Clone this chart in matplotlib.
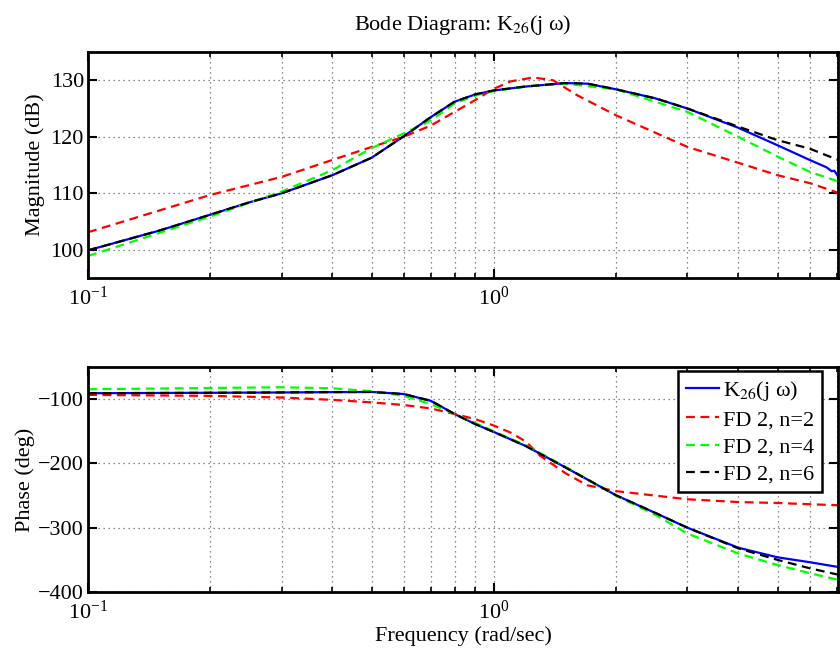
import matplotlib
matplotlib.use("Agg")
import matplotlib.pyplot as plt
from matplotlib.ticker import LogLocator, NullFormatter

plt.rcParams['font.family'] = ['Liberation Serif', 'DejaVu Serif']
plt.rcParams['mathtext.fontset'] = 'stix'

# magnitude (dB)
w_mag_k = [0.1, 0.15, 0.2, 0.25, 0.3, 0.4, 0.5, 0.6, 0.7, 0.8, 0.9, 1.0, 1.2, 1.5, 1.7,
           2.0, 2.5, 3.0, 4.0, 5.0, 6.0, 6.6, 6.8, 6.9, 7.05]
mag_k = [99.9, 103.4, 106.2, 108.4, 110.0, 113.2, 116.3, 120.1, 123.5, 126.2, 127.5, 128.2,
         128.9, 129.5, 129.4, 128.4, 126.8, 125.0, 121.6, 118.5, 115.9, 114.6, 113.9, 114.0, 113.0]

w_mag_n2 = [0.1, 0.2, 0.3, 0.4, 0.5, 0.6, 0.7, 0.8, 0.9, 1.0, 1.1, 1.25, 1.4, 1.6,
            2.0, 3.0, 4.0, 5.0, 6.0, 7.05]
mag_n2 = [103.1, 109.7, 112.9, 115.9, 118.2, 120.0, 122.0, 124.4, 126.5, 128.5, 129.8, 130.5,
          130.0, 127.4, 123.8, 118.2, 115.4, 113.2, 111.8, 110.1]

w_mag_n4 = [0.1, 0.2, 0.3, 0.4, 0.5, 0.6, 0.7, 0.8, 0.9, 1.0, 1.2, 1.5, 2.0, 3.0,
            4.0, 5.0, 6.0, 7.05]
mag_n4 = [98.9, 105.9, 110.3, 114.1, 118.0, 120.6, 122.9, 125.9, 127.3, 128.1, 128.9, 129.4,
          128.4, 124.4, 120.0, 116.5, 113.8, 112.1]

w_mag_n6 = [0.1, 0.15, 0.2, 0.25, 0.3, 0.4, 0.5, 0.6, 0.7, 0.8, 0.9, 1.0, 1.2, 1.5, 1.7,
            2.0, 2.5, 3.0, 4.0, 5.0, 6.0, 7.05]
mag_n6 = [99.9, 103.4, 106.2, 108.4, 110.0, 113.2, 116.3, 120.1, 123.5, 126.2, 127.5, 128.2,
          128.9, 129.5, 129.4, 128.4, 126.8, 125.0, 121.8, 119.4, 117.9, 115.9]

# phase (deg)
w_ph_k = [0.1, 0.2, 0.3, 0.4, 0.5, 0.6, 0.7, 0.8, 0.9, 1.0, 1.2, 1.5, 2.0, 2.5, 3.0,
          4.0, 5.0, 6.0, 7.05]
ph_k = [-90.7, -90.0, -89.5, -89.0, -88.7, -92.0, -102.6, -123.0, -138.7, -151.0, -173.0,
        -206.0, -249.5, -277.0, -300.0, -331.0, -346.0, -353.6, -361.0]

w_ph_n2 = [0.1, 0.2, 0.3, 0.4, 0.5, 0.6, 0.7, 0.8, 0.9, 1.0, 1.1, 1.2, 1.3, 1.5, 1.7,
           2.0, 3.0, 4.0, 5.0, 6.0, 7.05]
ph_n2 = [-93.3, -94.8, -97.4, -101.0, -105.0, -109.0, -114.4, -123.0, -131.0, -141.0, -152.0,
         -166.0, -188.0, -215.0, -234.0, -243.0, -255.7, -260.0, -261.5, -263.4, -265.0]

w_ph_n4 = [0.1, 0.2, 0.3, 0.4, 0.5, 0.6, 0.7, 0.8, 0.9, 1.0, 1.2, 1.5, 2.0, 2.5, 3.0,
           4.0, 5.0, 6.0, 7.05]
ph_n4 = [-84.5, -82.5, -81.4, -83.0, -87.6, -94.8, -107.7, -123.0, -137.0, -150.0, -172.0,
         -205.0, -250.0, -280.0, -309.0, -340.0, -358.0, -370.6, -381.0]

w_ph_n6 = [0.1, 0.2, 0.3, 0.4, 0.5, 0.6, 0.7, 0.8, 0.9, 1.0, 1.2, 1.5, 2.0, 2.5, 3.0,
           4.0, 5.0, 6.0, 7.05]
ph_n6 = [-90.7, -90.0, -89.5, -89.0, -88.7, -92.0, -102.6, -123.0, -138.7, -151.0, -173.0,
         -206.0, -249.5, -277.0, -300.0, -332.0, -350.0, -363.0, -373.0]

labels = [r'K$_{26}$(j ω)', 'FD 2, n=2', 'FD 2, n=4', 'FD 2, n=6']
fs = 16

fig = plt.figure(figsize=(8.4, 6.52), dpi=100)
ax1 = fig.add_axes([0.1048, 0.5736, 0.8929, 0.3466])
ax2 = fig.add_axes([0.1048, 0.092, 0.8929, 0.345])

dash = (0, (4, 2.5))
ax1.plot(w_mag_k, mag_k, color='b', lw=1.6)
ax1.plot(w_mag_n2, mag_n2, color='r', lw=1.6, linestyle=dash)
ax1.plot(w_mag_n4, mag_n4, color='#00ff00', lw=1.6, linestyle=dash)
ax1.plot(w_mag_n6, mag_n6, color='k', lw=1.6, linestyle=dash)

ax2.plot(w_ph_k, ph_k, color='b', lw=1.6, label=labels[0])
ax2.plot(w_ph_n2, ph_n2, color='r', lw=1.6, linestyle=dash, label=labels[1])
ax2.plot(w_ph_n4, ph_n4, color='#00ff00', lw=1.6, linestyle=dash, label=labels[2])
ax2.plot(w_ph_n6, ph_n6, color='k', lw=1.6, linestyle=dash, label=labels[3])

for ax in (ax1, ax2):
    ax.set_xscale('log')
    ax.set_xlim(0.1, 7.05)
    ax.xaxis.set_major_locator(LogLocator(base=10))
    ax.xaxis.set_minor_locator(LogLocator(base=10, subs=range(2, 10)))
    ax.xaxis.set_minor_formatter(NullFormatter())
    ax.grid(True, which='major', linestyle=(0, (1, 3)), color='0.4', lw=0.9)
    ax.grid(True, which='minor', axis='x', linestyle=(0, (1, 3)), color='0.4', lw=0.9)
    ax.tick_params(which='both', direction='in', top=True, right=True, labelsize=fs)
    ax.tick_params(which='major', length=6.5, width=1.5, pad=3)
    ax.tick_params(which='minor', length=3.6, width=1.2)
    ax.tick_params(axis='x', which='major', pad=6)
    for s in ax.spines.values():
        s.set_linewidth(2)

ax1.set_ylim(95, 135)
ax1.set_yticks([100, 110, 120, 130])
ax1.set_ylabel('Magnitude (dB)', fontsize=fs, labelpad=4)
ax1.set_title(r'Bode Diagram: K$_{26}$(j ω)', fontsize=fs, pad=16)

ax2.set_ylim(-400, -50)
ax2.set_yticks([-400, -300, -200, -100])
ax2.set_ylabel('Phase (deg)', fontsize=fs, labelpad=2)
ax2.set_xlabel('Frequency (rad/sec)', fontsize=fs, labelpad=2)

leg = ax2.legend(loc='upper right', bbox_to_anchor=(0.979, 0.982), fontsize=fs,
                 handlelength=1.5, handletextpad=0.18, borderpad=0.35, labelspacing=0.3,
                 fancybox=False, framealpha=1, borderaxespad=0)
leg.get_frame().set_edgecolor('k')
leg.get_frame().set_linewidth(1.8)

fig.savefig('out.png', dpi=100)
